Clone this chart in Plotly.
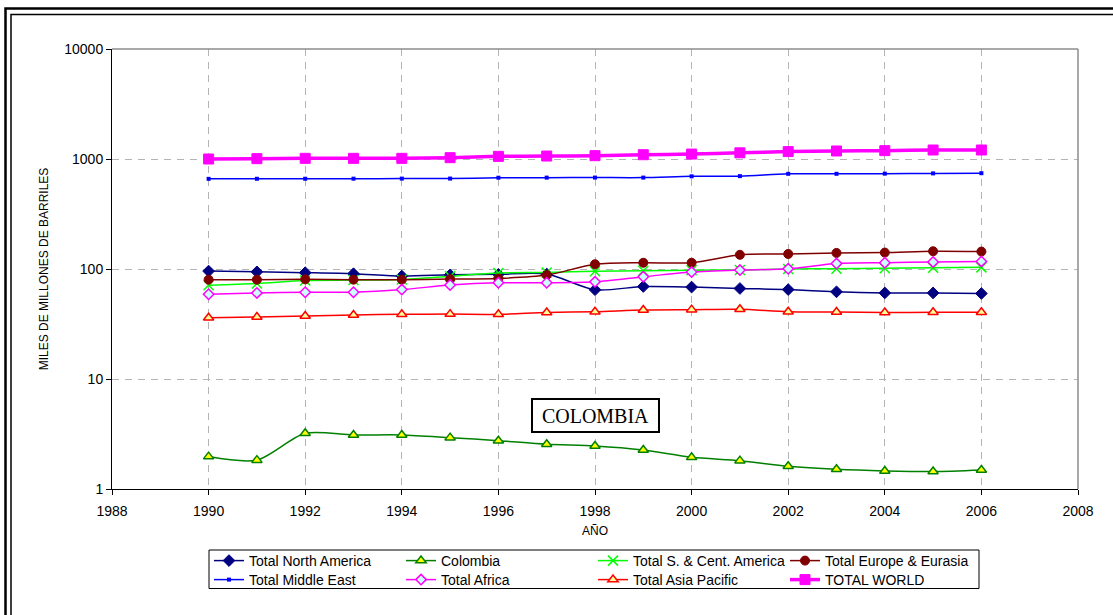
import plotly.graph_objects as go

# Proved oil reserves, thousand million barrels
years = list(range(1990, 2007))

north_america = [95.7, 94.2, 92.6, 90.6, 86.3, 88.5, 89.5, 89.9, 64.8, 69.3,
                 68.5, 66.5, 65.0, 62.0, 60.6, 60.6, 59.9]
colombia = [1.97, 1.83, 3.21, 3.10, 3.10, 2.93, 2.75, 2.55, 2.46, 2.26,
            1.94, 1.81, 1.61, 1.51, 1.46, 1.44, 1.49]
south_central_america = [71.1, 73.9, 78.6, 79.3, 80.4, 86.0, 92.0, 93.0, 95.5, 96.5,
                         97.5, 98.0, 100.0, 100.5, 101.5, 102.5, 103.5]
europe_eurasia = [80.0, 80.0, 80.5, 80.0, 80.0, 81.0, 82.0, 88.0, 110.4, 114.0,
                  114.0, 134.6, 137.0, 140.0, 141.0, 145.0, 144.0]
middle_east = [660.0, 661.0, 661.5, 662.5, 663.5, 664.0, 676.0, 677.0, 678.0, 677.5,
               696.0, 698.5, 733.5, 733.5, 736.0, 739.8, 742.7]
africa = [58.9, 60.6, 61.5, 61.5, 65.0, 71.5, 75.0, 75.0, 76.5, 85.0,
          93.8, 97.8, 100.4, 112.0, 114.0, 115.8, 117.2]
asia_pacific = [36.1, 36.6, 37.4, 38.2, 38.7, 38.9, 38.7, 40.2, 40.9, 42.4,
                42.7, 43.0, 40.9, 40.7, 40.2, 40.5, 40.5]
total_world = [1000, 1007, 1014, 1014, 1014, 1028, 1057, 1064, 1072, 1094,
               1109, 1138, 1168, 1183, 1191, 1207, 1207]

y_tick_values = [1, 10, 100, 1000, 10000]
y_tick_labels = ["1", "10", "100", "1000", "10000"]

W, H = 1113, 615
ML, MR, MT, MB = 112, 35, 49, 126
PW, PH = W - ML - MR, H - MT - MB


def px_x(p):
    return (p - ML) / PW


def px_y(p):
    return 1 - (p - MT) / PH


FONT = "Liberation Sans, Arial, sans-serif"

# Each legend row is its own legend so that exactly four entries sit per row
series = [
    dict(name="Total North America", y=north_america, color="#000080", row="legend",
         marker=dict(symbol="diamond", size=9, color="#000080",
                     line=dict(color="#000080", width=1)), width=1.5),
    dict(name="Colombia", y=colombia, color="#008000", row="legend",
         marker=dict(symbol="triangle-up", size=9, color="#ffff00",
                     line=dict(color="#008000", width=1.5)), width=1.5),
    dict(name="Total S. & Cent. America", y=south_central_america, color="#00ff00", row="legend",
         marker=dict(symbol="x-thin", size=10, color="#00ff00",
                     line=dict(color="#00ff00", width=1.5)), width=1.5),
    dict(name="Total Europe & Eurasia", y=europe_eurasia, color="#800000", row="legend",
         marker=dict(symbol="circle", size=9, color="#800000",
                     line=dict(color="#800000", width=1)), width=1.5),
    dict(name="Total Middle East", y=middle_east, color="#0000ff", row="legend2",
         marker=dict(symbol="square", size=4, color="#0000ff",
                     line=dict(color="#0000ff", width=0)), width=1.5),
    dict(name="Total Africa", y=africa, color="#ff00ff", row="legend2",
         marker=dict(symbol="diamond", size=8, color="#ccffff",
                     line=dict(color="#ff00ff", width=1.5)), width=1.5),
    dict(name="Total Asia Pacific", y=asia_pacific, color="#ff0000", row="legend2",
         marker=dict(symbol="triangle-up", size=9, color="#ffff99",
                     line=dict(color="#ff0000", width=1.5)), width=1.5),
    dict(name="TOTAL WORLD", y=total_world, color="#ff00ff", row="legend2",
         marker=dict(symbol="square", size=10, color="#ff00ff",
                     line=dict(color="#ff00ff", width=1)), width=3.5),
]

fig = go.Figure()
for s in series:
    fig.add_trace(go.Scatter(
        x=years, y=s["y"], name=s["name"], mode="lines+markers", legend=s["row"],
        line=dict(color=s["color"], width=s["width"], shape="spline", smoothing=0.8),
        marker=s["marker"],
    ))

grid = dict(showgrid=True, gridcolor="#b4b4b4", gridwidth=1, griddash="7px,6px")

fig.update_xaxes(
    range=[1988, 2008], tick0=1988, dtick=2,
    ticks="outside", ticklen=5, tickcolor="black", tickwidth=1,
    showline=True, linecolor="black", linewidth=1,
    tickfont=dict(family=FONT, size=14, color="black"),
    ticklabelstandoff=4,
    title=dict(text="AÑO", font=dict(family=FONT, size=12, color="black"), standoff=8),
    zeroline=False, **grid,
)
fig.update_yaxes(
    type="log", range=[0, 4], tickvals=y_tick_values, ticktext=y_tick_labels,
    ticks="outside", ticklen=5, tickcolor="black", tickwidth=1,
    showline=True, linecolor="black", linewidth=1,
    tickfont=dict(family=FONT, size=14, color="black"),
    title=dict(text="MILES DE MILLONES DE BARRILES",
               font=dict(family=FONT, size=12, color="black"), standoff=13),
    zeroline=False, **grid,
)

shapes = [
    # grey border of the plotting area (top and right edges)
    dict(type="line", xref="paper", yref="paper", x0=0, x1=1, y0=1, y1=1,
         line=dict(color="#8c8c8c", width=1.5)),
    dict(type="line", xref="paper", yref="paper", x0=1, x1=1, y0=0, y1=1,
         line=dict(color="#8c8c8c", width=1.5)),
    # box around the two legend rows
    dict(type="rect", xref="paper", yref="paper",
         x0=px_x(209), x1=px_x(979), y0=px_y(550), y1=px_y(588.5),
         line=dict(color="black", width=1)),
    # double frame around the chart
    dict(type="rect", xref="paper", yref="paper",
         x0=px_x(5.5), x1=px_x(1130), y0=px_y(8.5), y1=px_y(640),
         line=dict(color="black", width=2.5)),
    dict(type="rect", xref="paper", yref="paper",
         x0=px_x(11), x1=px_x(1130), y0=px_y(14.5), y1=px_y(640),
         line=dict(color="black", width=1.5)),
]

fig.add_annotation(
    x=1998, y=0.664, xref="x", yref="y", text="COLOMBIA", showarrow=False,
    font=dict(family="Liberation Serif, Times New Roman, serif", size=20, color="black"),
    bordercolor="black", borderwidth=2, borderpad=1, bgcolor="white",
    width=123, height=29,
)

legend_row = dict(
    orientation="h", xref="container", yref="container",
    xanchor="left", yanchor="top",
    entrywidth=147, entrywidthmode="pixels",
    borderwidth=0, bgcolor="rgba(0,0,0,0)",
    font=dict(family=FONT, size=14, color="black"),
    traceorder="normal",
)

fig.update_layout(
    width=W, height=H,
    margin=dict(l=ML, r=MR, t=MT, b=MB, autoexpand=False),
    paper_bgcolor="white", plot_bgcolor="white",
    font=dict(family=FONT, color="black"),
    shapes=shapes,
    legend=dict(legend_row, x=209 / W, y=1 - 545 / H),
    legend2=dict(legend_row, x=209 / W, y=1 - 564 / H),
)

fig.write_html("out.html")
